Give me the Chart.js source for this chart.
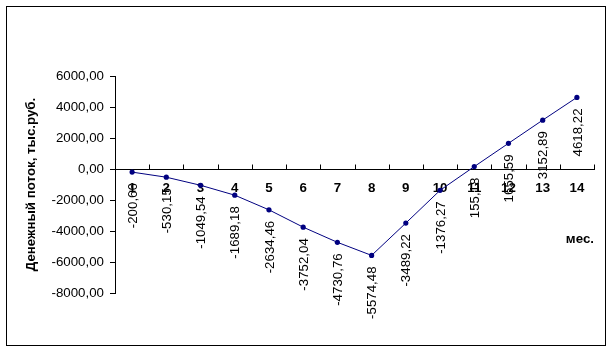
<!DOCTYPE html>
<html><head><meta charset="utf-8">
<script src="https://cdn.jsdelivr.net/npm/chart.js@4/dist/chart.umd.min.js"></script>
<style>html,body{margin:0;padding:0;background:#fff}</style>
</head><body>
<canvas id="c" width="612" height="352" style="display:block;width:612px;height:352px"></canvas>
<script>
const months = ['1','2','3','4','5','6','7','8','9','10','11','12','13','14'];
const cashFlow = [-200.66, -530.15, -1049.54, -1689.18, -2634.46, -3752.04, -4730.76, -5574.48, -3489.22, -1376.27, 155.18, 1655.59, 3152.89, 4618.22];
const yMin = -8000, yMax = 6000, yStep = 2000;
const yTitle = 'Денежный поток, тыс.руб.';
const xTitle = 'мес.';

const FONT = "'Liberation Sans', Arial, sans-serif";
const fmt = v => v.toFixed(2).replace('.', ',');

const decor = {
  id: 'decor',
  afterDraw(chart) {
    const ctx = chart.ctx;
    const xs = chart.scales.x, ys = chart.scales.y;
    ctx.save();
    // x-axis tick marks pointing up, between categories
    const y0 = Math.round(ys.getPixelForValue(0)) + 0.5;
    const w = (xs.right - xs.left) / months.length;
    ctx.strokeStyle = '#000'; ctx.lineWidth = 1;
    ctx.beginPath();
    for (let k = 1; k <= months.length; k++) {
      const x = Math.round(xs.left + k * w) + 0.5;
      ctx.moveTo(x, y0); ctx.lineTo(x, y0 - 5);
    }
    ctx.stroke();
    // data labels rotated
    const meta = chart.getDatasetMeta(0);
    ctx.fillStyle = '#000';
    ctx.font = '13.3px ' + FONT;
    ctx.textAlign = 'right';
    ctx.textBaseline = 'middle';
    meta.data.forEach((pt, i) => {
      ctx.save();
      ctx.translate(pt.x + 1, pt.y + 11);
      ctx.rotate(-Math.PI / 2);
      ctx.fillText(fmt(cashFlow[i]), 0, 0);
      ctx.restore();
    });
    // x title
    ctx.font = 'bold 13.3px ' + FONT;
    ctx.textAlign = 'right';
    ctx.fillText(xTitle, xs.right, y0 + 70);
    // outer border
    ctx.strokeRect(6.5, 6.5, 599, 339);
    ctx.restore();
  }
};

new Chart(document.getElementById('c'), {
  type: 'line',
  data: {
    labels: months,
    datasets: [{
      data: cashFlow,
      borderColor: '#000080',
      backgroundColor: '#000080',
      borderWidth: 1,
      pointStyle: 'circle',
      pointRadius: 2.6,
      pointBorderWidth: 0,
      tension: 0,
      fill: false
    }]
  },
  options: {
    responsive: false,
    animation: false,
    devicePixelRatio: 1,
    layout: { padding: { left: 23, top: 76, right: 18, bottom: 59 } },
    plugins: { legend: { display: false }, tooltip: { enabled: false } },
    scales: {
      x: {
        type: 'category',
        offset: true,
        position: { y: 0 },
        afterFit(s) { s.height = 0; },
        grid: { display: false, drawTicks: false },
        border: { display: true, color: '#000', width: 1 },
        ticks: { color: '#000', font: { family: FONT, size: 13.3, weight: 'bold' }, padding: 11, maxRotation: 0, autoSkip: false }
      },
      y: {
        min: yMin, max: yMax,
        afterFit(s) { s.width = 92; },
        grid: { drawOnChartArea: false, drawTicks: true, tickLength: 5, color: '#000', tickColor: '#000' },
        border: { display: true, color: '#000', width: 1 },
        ticks: { stepSize: yStep, color: '#000', padding: 6, font: { family: FONT, size: 13.3 }, callback: v => fmt(v) },
        title: { display: true, text: yTitle, color: '#000', padding: 0, font: { family: FONT, size: 13.3, weight: 'bold' } }
      }
    }
  },
  plugins: [decor]
});
</script>
</body></html>
